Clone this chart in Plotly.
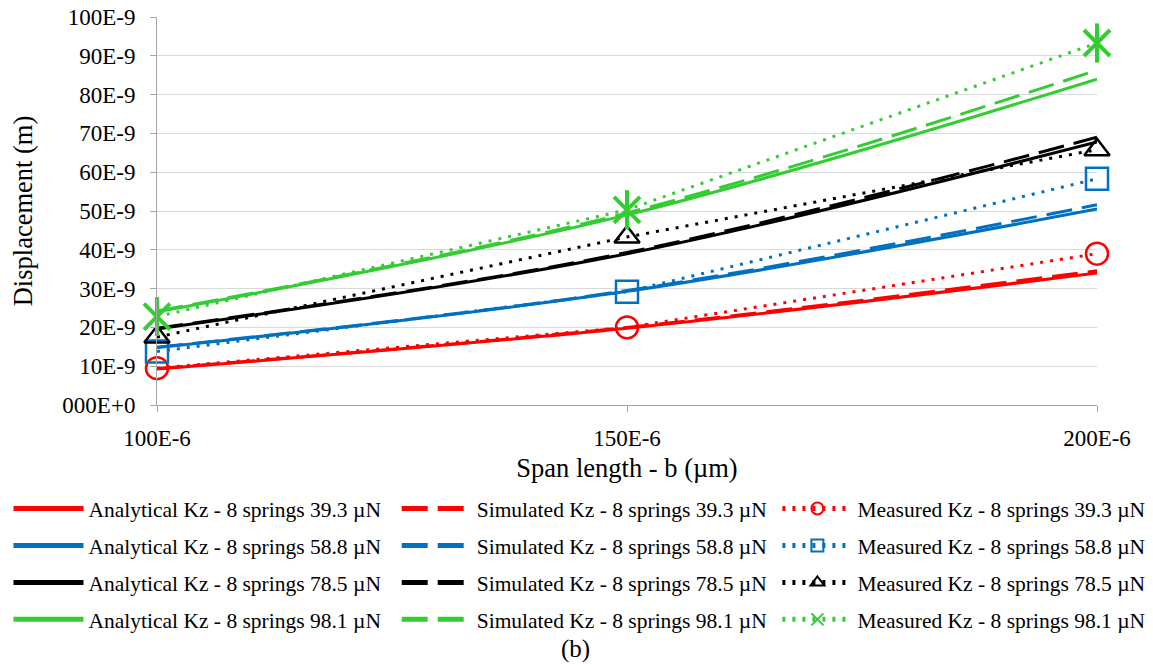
import plotly.graph_objects as go

# ---------------- data ----------------
span = [100e-6, 150e-6, 200e-6]
x_tick_labels = ["100E-6", "150E-6", "200E-6"]
y_tick_vals = [0, 10e-9, 20e-9, 30e-9, 40e-9, 50e-9, 60e-9, 70e-9, 80e-9, 90e-9, 100e-9]
y_tick_labels = ["000E+0", "10E-9", "20E-9", "30E-9", "40E-9", "50E-9",
                 "60E-9", "70E-9", "80E-9", "90E-9", "100E-9"]

forces = ["39.3", "58.8", "78.5", "98.1"]

analytical_393 = [9.3e-9, 19.8e-9, 34.0e-9]
simulated_393 = [9.4e-9, 20.0e-9, 34.6e-9]
measured_393 = [9.5e-9, 20.0e-9, 39.0e-9]

analytical_588 = [14.8e-9, 29.3e-9, 50.5e-9]
simulated_588 = [14.9e-9, 29.5e-9, 51.6e-9]
measured_588 = [13.8e-9, 29.2e-9, 58.3e-9]

analytical_785 = [19.6e-9, 39.0e-9, 67.8e-9]
simulated_785 = [19.8e-9, 39.3e-9, 69.0e-9]
measured_785 = [17.5e-9, 43.3e-9, 65.8e-9]

analytical_981 = [24.0e-9, 49.0e-9, 84.0e-9]
simulated_981 = [24.2e-9, 49.5e-9, 86.3e-9]
measured_981 = [22.8e-9, 50.3e-9, 93.3e-9]

colors = ["#ff0000", "#0070c0", "#000000", "#33cc33"]
analytical = [analytical_393, analytical_588, analytical_785, analytical_981]
simulated = [simulated_393, simulated_588, simulated_785, simulated_981]
measured = [measured_393, measured_588, measured_785, measured_981]
markers = ["circle-open", "square-open", "triangle-up-open", "x-thin-open"]

FONT = "Times New Roman, Liberation Serif, serif"

fig = go.Figure()

for i, f in enumerate(forces):
    c = colors[i]
    fig.add_trace(go.Scatter(
        x=span, y=analytical[i], mode="lines", cliponaxis=False,
        line=dict(color=c, width=3, shape="spline", smoothing=1),
        name=f"Analytical Kz - 8 springs {f} µN",
        legend="legend", legendgroup=f"a{i}"))
    fig.add_trace(go.Scatter(
        x=span, y=simulated[i], mode="lines", cliponaxis=False,
        line=dict(color=c, width=3, shape="spline", smoothing=1, dash="26px,10px"),
        name=f"Simulated Kz - 8 springs {f} µN",
        legend="legend2", legendgroup=f"s{i}"))

for i, f in enumerate(forces):
    c = colors[i]
    if i == 3:
        fig.add_trace(go.Scatter(
            x=span, y=measured[i], mode="markers", cliponaxis=False,
            marker=dict(symbol="line-ns-open", size=28, color=c, line=dict(color=c, width=4)),
            showlegend=False, hoverinfo="skip"))
    fig.add_trace(go.Scatter(
        x=span, y=measured[i], mode="lines+markers", cliponaxis=False,
        line=dict(color=c, width=3, dash="3px,7px"),
        marker=dict(symbol=markers[i], size=22 if i < 3 else 26, color=c,
                    line=dict(color=c, width=2.5 if i < 3 else 4)),
        name=f"Measured Kz - 8 springs {f} µN",
        legend="legend3", legendgroup=f"m{i}"))

leg_common = dict(orientation="v", yanchor="top", xanchor="left", y=-0.214,
                  font=dict(family=FONT, size=21.5, color="black"),
                  itemwidth=70, tracegroupgap=6, itemsizing="constant",
                  bgcolor="rgba(0,0,0,0)")

fig.update_layout(
    width=1153, height=665, autosize=False,
    margin=dict(l=157, r=56, t=17, b=260, autoexpand=False),
    plot_bgcolor="white", paper_bgcolor="white",
    font=dict(family=FONT, color="black"),
    xaxis=dict(range=[100e-6, 200e-6], tickvals=span, ticktext=x_tick_labels,
               showgrid=False, zeroline=False, showline=True, linecolor="#a6a6a6",
               linewidth=1, ticks="outside", ticklen=6, tickcolor="#a6a6a6",
               tickfont=dict(family=FONT, size=23, color="black"),
               ticklabelstandoff=6,
               title=dict(text="Span length - b (µm)", standoff=8,
                          font=dict(family=FONT, size=26.5, color="black"))),
    yaxis=dict(range=[0, 100e-9], tickvals=y_tick_vals, ticktext=y_tick_labels,
               showgrid=True, gridcolor="#d9d9d9", gridwidth=1, zeroline=False,
               showline=True, linecolor="#a6a6a6", linewidth=1,
               ticks="outside", ticklen=6, tickcolor="#a6a6a6",
               tickfont=dict(family=FONT, size=23, color="black"),
               ticklabelstandoff=10,
               title=dict(text="Displacement (m)", standoff=22,
                          font=dict(family=FONT, size=26.5, color="black"))),
    legend=dict(leg_common, x=-0.158),
    legend2=dict(leg_common, x=0.255),
    legend3=dict(leg_common, x=0.660),
    annotations=[dict(text="(b)", xref="paper", yref="paper", x=0.4457, y=-0.628,
                      xanchor="center", yanchor="middle", showarrow=False,
                      font=dict(family=FONT, size=25, color="black"))],
)

fig.write_html("out.html", config={"displayModeBar": False},
               post_script="document.body.style.margin='0';")
